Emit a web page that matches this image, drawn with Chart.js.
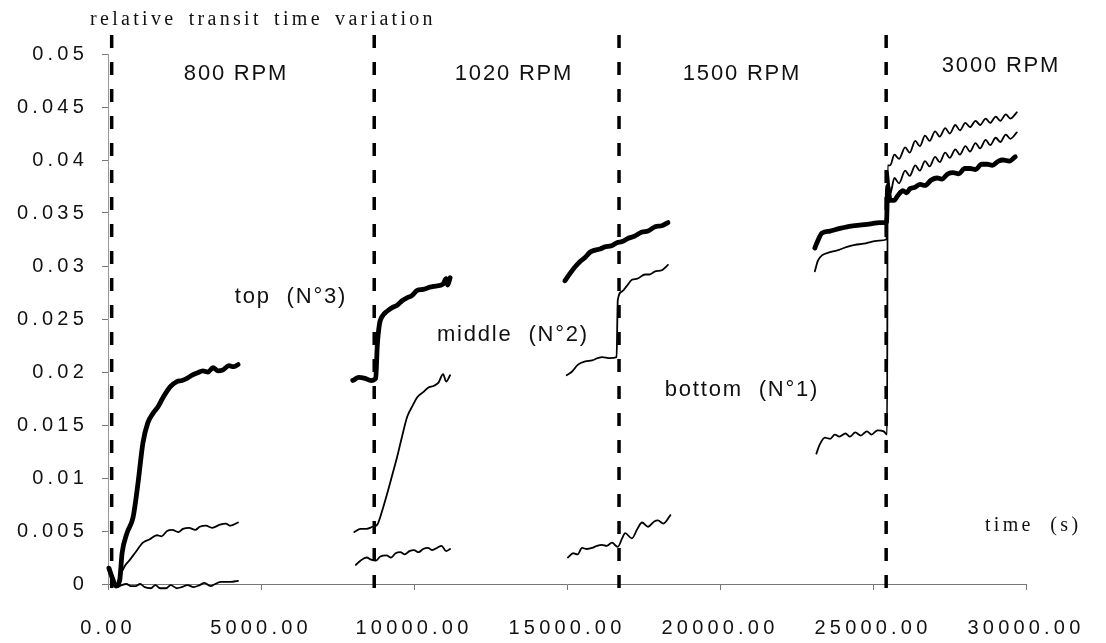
<!DOCTYPE html>
<html><head><meta charset="utf-8">
<script src="https://cdn.jsdelivr.net/npm/chart.js@4.4.1/dist/chart.umd.min.js"></script>
<style>html,body{margin:0;padding:0;background:#fff;}#wrap{width:1106px;height:643px;position:relative;}</style>
</head><body><div id="wrap"><canvas id="c"></canvas></div>
<script>
// ---- tick labels ----
const xTickLabels = ['0.00','5000.00','10000.00','15000.00','20000.00','25000.00','30000.00'];
const yTickLabels = ['0','0.005','0.01','0.015','0.02','0.025','0.03','0.035','0.04','0.045','0.05'];

// ---- speed change markers (time, s) ----
const rpmMarkers = [120, 8700, 16700, 25430];
const rpmLabels = ['800 RPM','1020 RPM','1500 RPM','3000 RPM'];
const rpmLabelX = [4183, 13268, 20719, 29183];
const rpmLabelY = [0.0481, 0.0481, 0.0481, 0.0489];

const sensorLabels = ['top  (N°3)','middle  (N°2)','bottom  (N°1)'];
const sensorLabelX = [5980, 13235, 20719];
const sensorLabelY = [0.0271, 0.0235, 0.0183];

const yAxisTitle = 'relative transit time variation';
const xAxisTitle = 'time  (s)';

// ---- top sensor (N°3) [time s, relative variation] ----
const top1 = [[30,0.0015],[150,0.0005],[260,-0.0002],[380,0.0003],[460,0.0029],[620,0.0048],[820,0.0063],[980,0.0095],[1140,0.0133],[1300,0.0152],[1470,0.0161],[1630,0.0167],[1800,0.0176],[2030,0.0186],[2250,0.0191],[2420,0.0192],[2580,0.0194],[2750,0.0197],[2910,0.0199],[3100,0.0201],[3270,0.02],[3430,0.0204],[3600,0.0201],[3760,0.0202],[3950,0.0206],[4100,0.0205],[4250,0.0207]];
const top2 = [[8000,0.0192],[8200,0.0195],[8400,0.0194],[8600,0.0192],[8750,0.0194],[8800,0.0225],[8870,0.0245],[8950,0.0252],[9150,0.0258],[9300,0.0261],[9450,0.0263],[9600,0.0267],[9770,0.027],[9930,0.0272],[10100,0.0277],[10300,0.0278],[10520,0.028],[10700,0.0281],[10950,0.0283],[11050,0.0288],[11100,0.0282],[11180,0.0289]];
const top3 = [[14930,0.0286],[15100,0.0293],[15260,0.0299],[15420,0.0304],[15590,0.0308],[15750,0.0313],[15920,0.0315],[16080,0.0316],[16240,0.0318],[16450,0.0319],[16630,0.0322],[16800,0.0323],[16990,0.0326],[17200,0.0328],[17450,0.0332],[17650,0.0333],[17880,0.0337],[18100,0.0338],[18300,0.0341]];
const top4 = [[23100,0.0317],[23200,0.0324],[23330,0.0331],[23600,0.0333],[23860,0.0335],[24150,0.0337],[24410,0.0338],[24700,0.0339],[24970,0.034],[25200,0.0341],[25440,0.0341],[25480,0.0375],[25560,0.0362],[25700,0.0362],[25800,0.0366],[25980,0.0371],[26100,0.0369],[26210,0.0373],[26350,0.0374],[26540,0.0377],[26700,0.0376],[26900,0.0381],[27090,0.0383],[27250,0.0382],[27450,0.0387],[27620,0.0388],[27800,0.0387],[28000,0.0392],[28170,0.0392],[28350,0.0391],[28550,0.0396],[28730,0.0396],[28900,0.0395],[29100,0.0399],[29250,0.04],[29450,0.0399],[29650,0.0403]];

// ---- middle sensor (N°2) ----
const mid1 = [[300,0],[400,0.0008],[550,0.0017],[720,0.0023],[900,0.003],[1140,0.0039],[1350,0.0042],[1600,0.0046],[1750,0.0045],[1930,0.005],[2100,0.0051],[2300,0.0049],[2450,0.0052],[2650,0.0053],[2850,0.0051],[3000,0.0054],[3200,0.0055],[3400,0.0053],[3660,0.0056],[3850,0.0057],[4000,0.0055],[4250,0.0058]];
const mid2 = [[8050,0.0049],[8250,0.0052],[8450,0.0052],[8650,0.0054],[8800,0.0056],[8990,0.0072],[9150,0.0088],[9300,0.0104],[9450,0.012],[9600,0.0138],[9780,0.0158],[9950,0.0168],[10100,0.0176],[10300,0.0181],[10450,0.0185],[10650,0.0187],[10800,0.019],[10950,0.0198],[11050,0.0191],[11180,0.0197]];
const mid3 = [[14990,0.0197],[15150,0.02],[15360,0.0207],[15600,0.021],[15820,0.0211],[16000,0.0213],[16150,0.0214],[16400,0.0213],[16620,0.0214],[16660,0.0268],[16800,0.0276],[16950,0.0281],[17120,0.0287],[17300,0.0288],[17550,0.0292],[17700,0.0292],[17880,0.0295],[18100,0.0296],[18300,0.0301]];
const mid4 = [[23100,0.0295],[23200,0.0305],[23330,0.031],[23600,0.0313],[23860,0.0315],[24150,0.0318],[24410,0.032],[24700,0.0321],[24970,0.0323],[25200,0.0324],[25440,0.0325],[25480,0.039],[25560,0.0368],[25700,0.0383],[25850,0.0378],[26050,0.039],[26200,0.0385],[26380,0.0395],[26530,0.039],[26700,0.0399],[26850,0.0394],[27030,0.0403],[27180,0.0398],[27360,0.0407],[27510,0.0402],[27690,0.041],[27840,0.0405],[28020,0.0413],[28170,0.0408],[28350,0.0416],[28500,0.0411],[28680,0.0419],[28830,0.0414],[29010,0.0421],[29160,0.0417],[29340,0.0424],[29490,0.042],[29700,0.0426]];

// ---- bottom sensor (N°1) ----
const bot1 = [[150,0],[300,-0.0003],[450,-0.0001],[600,0],[750,-0.0002],[900,-0.0002],[1050,0],[1200,-0.0003],[1400,-0.0004],[1550,-0.0001],[1700,-0.0004],[1900,-0.0004],[2050,-0.0001],[2250,-0.0004],[2400,-0.0003],[2600,-0.0001],[2800,-0.0003],[3000,-0.0001],[3150,0.0001],[3350,-0.0002],[3500,0],[3700,0.0002],[3850,0.0002],[4000,0.0002],[4250,0.0003]];
const bot2 = [[8100,0.0018],[8250,0.0022],[8450,0.0025],[8600,0.0023],[8750,0.0022],[8900,0.0026],[9100,0.0027],[9250,0.0025],[9400,0.0029],[9550,0.003],[9700,0.0028],[9850,0.0031],[10000,0.0032],[10150,0.003],[10300,0.0033],[10450,0.0034],[10600,0.0032],[10750,0.0034],[10900,0.0036],[11050,0.0031],[11180,0.0033]];
const bot3 = [[15030,0.0025],[15200,0.0029],[15350,0.0028],[15490,0.0034],[15650,0.0033],[15820,0.0034],[15980,0.0036],[16140,0.0037],[16300,0.0036],[16470,0.0039],[16660,0.0035],[16800,0.0043],[16900,0.0048],[17120,0.0043],[17300,0.0052],[17450,0.0058],[17650,0.0054],[17850,0.0059],[17970,0.006],[18150,0.0057],[18380,0.0065]];
const bot4 = [[23150,0.0123],[23250,0.0131],[23430,0.0138],[23600,0.0137],[23750,0.0141],[23900,0.0139],[24100,0.0142],[24250,0.0139],[24420,0.0143],[24600,0.014],[24800,0.0144],[24950,0.0141],[25150,0.0145],[25350,0.0144],[25460,0.0141],[25480,0.0395],[25560,0.0395],[25700,0.0405],[25850,0.0401],[26050,0.0412],[26200,0.0407],[26380,0.0418],[26530,0.0413],[26700,0.0423],[26850,0.0418],[27030,0.0427],[27180,0.0422],[27360,0.043],[27510,0.0425],[27690,0.0433],[27840,0.0428],[28020,0.0435],[28170,0.0431],[28350,0.0437],[28500,0.0433],[28680,0.0439],[28830,0.0435],[29010,0.0441],[29160,0.0437],[29340,0.0443],[29490,0.0439],[29700,0.0445]];

// join segments with gaps
function joinSegs(segs){
  const out = [];
  segs.forEach((s,i)=>{
    if(i>0){ out.push({x:(segs[i-1][segs[i-1].length-1][0]+s[0][0])/2, y:null}); }
    s.forEach(p=>out.push({x:p[0], y:p[1]}));
  });
  return out;
}

const markerTop = 0.0518, markerBottom = -0.0004;
const markerSets = rpmMarkers.map(t=>({
  data:[{x:t,y:markerTop},{x:t,y:markerBottom}],
  borderColor:'#000', borderWidth:3.5, borderDash:[13,14], borderCapStyle:'butt',
  pointRadius:0, clip:false, tension:0, order:0
}));

const seriesStyle = (w)=>({borderColor:'#000', borderWidth:w, pointRadius:0, spanGaps:false,
  cubicInterpolationMode:'monotone', clip:false, borderJoinStyle:'round', borderCapStyle:'round', fill:false});

const datasets = [
  Object.assign({label:'top (N°3)', data:joinSegs([top1,top2,top3,top4])}, seriesStyle(4.8)),
  Object.assign({label:'middle (N°2)', data:joinSegs([mid1,mid2,mid3,mid4])}, seriesStyle(1.8)),
  Object.assign({label:'bottom (N°1)', data:joinSegs([bot1,bot2,bot3,bot4])}, seriesStyle(1.8)),
  ...markerSets
];

const FONT_SANS = "'Liberation Sans', Arial, Helvetica, sans-serif";
const FONT_SERIF = "'Liberation Serif', 'Times New Roman', serif";

const textPlugin = {
  id:'texts',
  beforeDraw(chart){ chart.ctx.letterSpacing = '4.2px'; },
  afterDatasetsDraw(chart){
    const ctx = chart.ctx, x = chart.scales.x, y = chart.scales.y;
    ctx.save();
    ctx.fillStyle = '#111';
    ctx.textBaseline = 'middle';
    ctx.textAlign = 'center';
    ctx.font = '22px ' + FONT_SANS;
    ctx.letterSpacing = '1.8px';
    rpmLabels.forEach((t,i)=>ctx.fillText(t, x.getPixelForValue(rpmLabelX[i]), y.getPixelForValue(rpmLabelY[i])));
    sensorLabels.forEach((t,i)=>ctx.fillText(t, x.getPixelForValue(sensorLabelX[i]), y.getPixelForValue(sensorLabelY[i])));
    ctx.font = '20px ' + FONT_SERIF;
    ctx.letterSpacing = '3.3px';
    ctx.wordSpacing = '4px';
    ctx.textAlign = 'left';
    ctx.fillText(yAxisTitle, x.getPixelForValue(-588), y.getPixelForValue(0.0532));
    ctx.wordSpacing = '0px';
    ctx.fillText(xAxisTitle, x.getPixelForValue(28660), y.getPixelForValue(0.0055));
    ctx.restore();
  }
};

new Chart(document.getElementById('c'), {
  type:'line',
  data:{datasets},
  options:{
    responsive:true, maintainAspectRatio:false, animation:false,
    layout:{padding:{left:0,right:80,top:54,bottom:0}},
    plugins:{legend:{display:false}, tooltip:{enabled:false}},
    scales:{
      x:{type:'linear', min:0, max:30000,
        ticks:{stepSize:5000, color:'#111', padding:26, font:{family:FONT_SANS, size:20},
          callback:(v,i)=>xTickLabels[i]},
        grid:{display:true, drawOnChartArea:false, tickLength:6, color:'#777'},
        border:{display:true, color:'#777', width:1},
        afterFit:(s)=>{ s.height = 59; }
      },
      y:{type:'linear', min:0, max:0.05,
        ticks:{stepSize:0.005, color:'#111', padding:14, font:{family:FONT_SANS, size:20},
          callback:(v,i)=>yTickLabels[i]},
        grid:{display:true, drawOnChartArea:false, tickLength:6, color:'#777'},
        border:{display:true, color:'#999', width:1},
        afterFit:(s)=>{ s.width = 108; }
      }
    }
  },
  plugins:[textPlugin]
});
</script></body></html>
